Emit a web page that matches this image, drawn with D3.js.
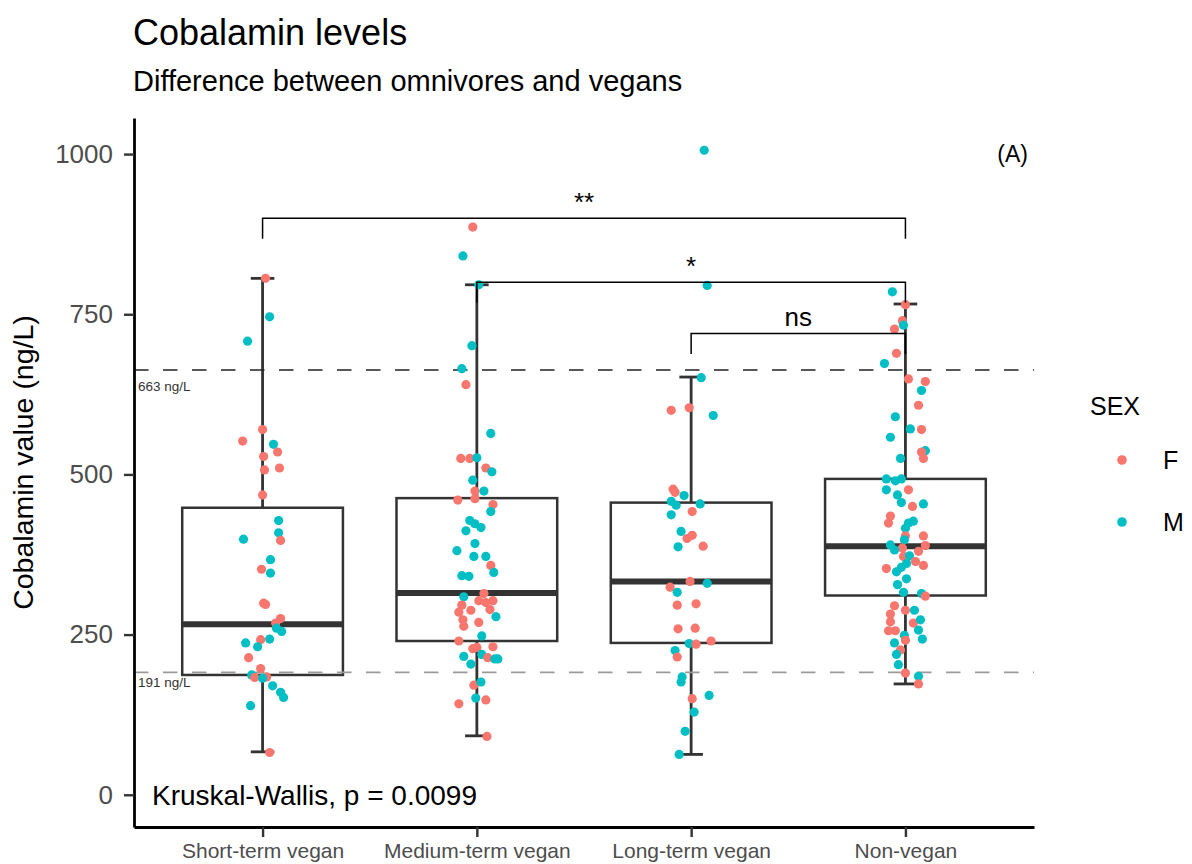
<!DOCTYPE html>
<html>
<head>
<meta charset="utf-8">
<script src="https://cdn.jsdelivr.net/npm/d3@7"></script>
<style>
  html, body { margin: 0; padding: 0; background: #fff; }
  svg { display: block; font-family: "Liberation Sans", Arial, Helvetica, sans-serif; }
</style>
</head>
<body>
<svg id="chart" width="1192" height="864"></svg>
<script>
// ---- data ----
const categories = ["Short-term vegan", "Medium-term vegan", "Long-term vegan", "Non-vegan"];

// box plot statistics per group (ng/L)
const whiskerLow  = [67, 92, 63, 173];
const q1          = [187, 240, 237, 311];
const median      = [266, 315, 333, 388];
const q3          = [448, 463, 456, 493];
const whiskerHigh = [806, 796, 652, 766];

const yTicks = [0, 250, 500, 750, 1000];
const thresholds = [663, 191];
const thresholdLabels = ["663 ng/L", "191 ng/L"];
const sexes = ["F", "M"];
const sexColors = ["#F8766D", "#00BFC4"];

// pairwise comparisons
const bracketFrom  = ["Short-term vegan", "Medium-term vegan", "Long-term vegan"];
const bracketTo    = ["Non-vegan", "Non-vegan", "Non-vegan"];
const bracketY     = [900, 800, 720];
const bracketLabel = ["**", "*", "ns"];

// individual measurements: [value, sex, jitter (fraction of category step)]
const shortTermPoints = [
  [806,"F",.014],[746,"M",.033],[708,"M",-.070],[570,"F",0],[552,"F",-.093],[547,"M",.051],
  [535,"F",.070],[528,"F",.005],[507,"F",.009],[510,"F",.079],[468,"F",0],[428,"M",.075],
  [409,"M",.075],[397,"F",.084],[399,"M",-.089],[367,"M",.037],[352,"F",-.005],[346,"M",.037],
  [299,"F",.005],[297,"F",.014],[275,"F",.084],[268,"F",.061],[260,"M",.065],[255,"M",.089],
  [243,"M",.033],[242,"F",-.009],[237,"M",-.079],[231,"M",-.023],[214,"F",-.065],[197,"F",-.009],
  [187,"M",-.051],[183,"F",-.037],[184,"F",.019],[182,"M",0],[170,"M",.047],[160,"M",.084],
  [152,"M",.098],[139,"M",-.056],[66,"F",.033]
];
const mediumTermPoints = [
  [886,"F",-.019],[841,"M",-.065],[796,"M",.009],[701,"M",-.023],[665,"M",-.070],[640,"F",-.051],
  [564,"M",.065],[525,"F",-.075],[525,"F",-.033],[526,"M",0],[510,"F",.042],[504,"M",.070],
  [491,"M",-.019],[474,"F",-.009],[474,"M",.033],[460,"F",-.089],[462,"F",-.009],[453,"F",.075],
  [442,"M",.065],[428,"M",-.033],[423,"M",-.009],[417,"M",.019],[412,"M",-.051],[392,"M",-.009],
  [381,"M",-.093],[372,"M",-.014],[372,"M",.042],[358,"F",.065],[347,"M",.079],[342,"M",-.070],
  [341,"M",-.037],[314,"F",.033],[309,"M",-.061],[303,"F",.009],[300,"F",.042],[303,"F",.075],
  [296,"F",-.070],[288,"F",-.028],[285,"F",-.084],[289,"F",.061],[278,"M",.089],[273,"F",-.065],
  [263,"F",-.061],[269,"F",.009],[248,"M",.023],[240,"F",-.084],[228,"F",-.019],[230,"F",0],
  [231,"F",.075],[216,"M",-.061],[219,"M",.023],[214,"F",.051],[212,"M",.084],[212,"M",.098],
  [204,"M",-.028],[171,"F",-.014],[176,"M",.019],[151,"M",-.005],[148,"F",.042],[142,"F",-.084],
  [91,"F",.047]
];
const longTermPoints = [
  [1006,"M",.061],[795,"M",.075],[651,"M",.047],[600,"F",-.093],[604,"F",-.009],[592,"M",.103],
  [477,"F",-.084],[472,"F",-.075],[467,"M",-.033],[458,"M",-.093],[452,"M",-.070],[454,"M",.042],
  [442,"F",.005],[437,"M",-.093],[411,"M",-.047],[405,"F",.005],[400,"F",-.019],[388,"F",.056],
  [387,"M",-.061],[333,"F",-.005],[324,"F",-.098],[330,"M",.075],[316,"M",-.065],[296,"F",-.065],
  [298,"F",.023],[259,"F",-.061],[260,"F",.019],[236,"M",-.009],[235,"F",.023],[240,"F",.093],
  [225,"M",-.075],[215,"F",-.065],[184,"M",-.042],[176,"M",-.047],[150,"F",.005],[155,"M",.084],
  [129,"M",.014],[99,"M",-.028],[63,"M",-.056]
];
const nonVeganPoints = [
  [785,"M",-.061],[765,"F",0],[740,"F",-.014],[733,"M",-.009],[727,"F",-.051],[689,"F",-.042],
  [673,"M",-.098],[649,"F",.014],[645,"F",.093],[631,"M",.075],[608,"F",.061],[590,"M",-.047],
  [571,"M",.023],[570,"F",.075],[558,"M",-.070],[537,"M",.093],[535,"F",.075],[525,"F",.084],
  [525,"M",-.023],[493,"M",-.089],[490,"M",-.047],[493,"M",-.019],[476,"M",-.089],[476,"F",.014],
  [468,"M",-.037],[456,"M",-.019],[450,"F",.033],[454,"M",.084],[435,"F",-.070],[424,"F",-.079],
  [427,"M",.037],[424,"M",.014],[416,"M",0],[404,"F",0],[404,"F",.084],[398,"M",-.005],
  [390,"M",-.070],[389,"F",.093],[385,"F",-.014],[382,"M",-.051],[380,"F",.061],[372,"F",-.009],
  [373,"M",.019],[364,"F",.047],[358,"F",.084],[361,"M",.005],[353,"F",-.089],[355,"M",-.019],
  [348,"M",-.042],[337,"M",.005],[328,"M",-.037],[316,"M",-.009],[314,"M",.075],[310,"F",.093],
  [295,"F",-.051],[288,"F",0],[288,"M",.042],[282,"F",-.070],[270,"F",-.070],[268,"F",.037],
  [273,"M",.070],[257,"M",.061],[256,"F",-.079],[256,"F",-.047],[249,"M",-.005],[243,"M",.079],
  [241,"F",0],[237,"M",-.051],[226,"F",-.023],[219,"M",-.042],[203,"M",-.033],[190,"F",0],
  [185,"M",.061],[173,"F",.061]
];
const pointGroups = [shortTermPoints, mediumTermPoints, longTermPoints, nonVeganPoints];

// ---- layout ----
const svg = d3.select("#chart");
const panel = { left: 134, right: 1034, top: 118, bottom: 827 };

const x = d3.scalePoint().domain(categories).range([panel.left, panel.right]).padding(0.6);
const step = x.step();
const y = d3.scaleLinear().domain([-50.3, 1056.3]).range([panel.bottom, panel.top]);
const color = d3.scaleOrdinal().domain(sexes).range(sexColors);

const boxW = step * 0.75;
const capW = step * 0.11;
const ink = "#333333";

// titles
svg.append("text").attr("x", 133).attr("y", 45)
  .attr("font-size", 36).attr("fill", "#000").text("Cobalamin levels");
svg.append("text").attr("x", 133).attr("y", 91)
  .attr("font-size", 29).attr("fill", "#000").text("Difference between omnivores and vegans");

const plot = svg.append("g");

const stats = categories.map((c, i) => ({
  cat: c, lo: whiskerLow[i], q1: q1[i], med: median[i], q3: q3[i], hi: whiskerHigh[i]
}));

// error-bar whiskers
const eb = plot.append("g").attr("stroke", ink).attr("stroke-width", 2.8).attr("fill", "none");
eb.selectAll("line.v").data(stats).join("line").attr("class", "v")
  .attr("x1", d => x(d.cat)).attr("x2", d => x(d.cat))
  .attr("y1", d => y(d.lo)).attr("y2", d => y(d.hi));
eb.selectAll("line.cap-hi").data(stats).join("line").attr("class", "cap-hi")
  .attr("x1", d => x(d.cat) - capW / 2).attr("x2", d => x(d.cat) + capW / 2)
  .attr("y1", d => y(d.hi)).attr("y2", d => y(d.hi));
eb.selectAll("line.cap-lo").data(stats).join("line").attr("class", "cap-lo")
  .attr("x1", d => x(d.cat) - capW / 2).attr("x2", d => x(d.cat) + capW / 2)
  .attr("y1", d => y(d.lo)).attr("y2", d => y(d.lo));

// boxes
plot.append("g").selectAll("rect").data(stats).join("rect")
  .attr("x", d => x(d.cat) - boxW / 2).attr("width", boxW)
  .attr("y", d => y(d.q3)).attr("height", d => y(d.q1) - y(d.q3))
  .attr("fill", "#fff").attr("stroke", ink).attr("stroke-width", 2.5);
plot.append("g").selectAll("line").data(stats).join("line")
  .attr("x1", d => x(d.cat) - boxW / 2).attr("x2", d => x(d.cat) + boxW / 2)
  .attr("y1", d => y(d.med)).attr("y2", d => y(d.med))
  .attr("stroke", ink).attr("stroke-width", 6);

// reference thresholds
const thrColors = ["#222222", "#9a9a9a"];
const thrOffsets = [16, 10];
plot.append("g").selectAll("line").data(thresholds).join("line")
  .attr("x1", panel.left).attr("x2", panel.right)
  .attr("y1", d => y(d)).attr("y2", d => y(d))
  .attr("stroke", (d, i) => thrColors[i]).attr("stroke-width", 1.6)
  .attr("stroke-dasharray", "14.5,14.5");
plot.append("g").selectAll("text").data(thresholds).join("text")
  .attr("x", panel.left + 4).attr("y", (d, i) => y(d) + thrOffsets[i])
  .attr("dy", "0.35em").attr("font-size", 13.5).attr("fill", "#333")
  .text((d, i) => thresholdLabels[i]);

// jittered points
const points = [];
pointGroups.forEach((g, i) => g.forEach(p => points.push({ cat: categories[i], v: p[0], sex: p[1], j: p[2] })));
plot.append("g").selectAll("circle").data(points).join("circle")
  .attr("cx", d => x(d.cat) + d.j * step)
  .attr("cy", d => y(d.v))
  .attr("r", 4.6)
  .attr("fill", d => color(d.sex));

// significance brackets
const tip = 32;
const br = plot.append("g");
bracketY.forEach((yb, i) => {
  const x1 = x(bracketFrom[i]), x2 = x(bracketTo[i]);
  br.append("path")
    .attr("d", `M${x1},${y(yb - tip)}V${y(yb)}H${x2}V${y(yb - tip)}`)
    .attr("fill", "none").attr("stroke", "#000").attr("stroke-width", 1.5);
  br.append("text").attr("x", (x1 + x2) / 2).attr("y", y(yb) - 7)
    .attr("text-anchor", "middle").attr("font-size", 26).attr("fill", "#000")
    .text(bracketLabel[i]);
});

// panel tag and global test
svg.append("text").attr("x", x("Non-vegan") + step / 2).attr("y", y(1000))
  .attr("dy", "0.35em").attr("text-anchor", "middle").attr("font-size", 23).attr("fill", "#000")
  .text("(A)");
svg.append("text").attr("x", panel.left + 18).attr("y", y(0))
  .attr("dy", "0.35em").attr("font-size", 28).attr("fill", "#000")
  .text("Kruskal-Wallis, p = 0.0099");

// axes
const yAxis = svg.append("g").attr("transform", `translate(${panel.left},0)`)
  .call(d3.axisLeft(y).tickValues(yTicks).tickFormat(d3.format("d"))
    .tickSize(10).tickSizeOuter(0).tickPadding(11));
const xAxis = svg.append("g").attr("transform", `translate(0,${panel.bottom})`)
  .call(d3.axisBottom(x).tickSize(10).tickSizeOuter(0));
[yAxis, xAxis].forEach(a => {
  a.select(".domain").attr("stroke", "#000").attr("stroke-width", 2.8);
  a.selectAll(".tick line").attr("stroke", ink).attr("stroke-width", 2.4);
  a.selectAll(".tick text").attr("fill", "#4d4d4d").attr("font-family", null);
});
yAxis.selectAll(".tick text").attr("font-size", 26);
// category labels sit at the bottom edge of the canvas
xAxis.selectAll(".tick text").attr("font-size", 21)
  .attr("y", 858 - panel.bottom).attr("dy", null);

svg.append("text")
  .attr("transform", `translate(33,${(panel.top + panel.bottom) / 2 - 10}) rotate(-90)`)
  .attr("text-anchor", "middle").attr("font-size", 28.5).attr("fill", "#000")
  .text("Cobalamin value (ng/L)");

// legend
const legend = svg.append("g");
legend.append("text").attr("x", 1090).attr("y", 415).attr("font-size", 25).attr("fill", "#000").text("SEX");
const keyY = [460, 522];
sexes.forEach((s, i) => {
  legend.append("circle").attr("cx", 1122).attr("cy", keyY[i]).attr("r", 4.8).attr("fill", color(s));
  legend.append("text").attr("x", 1163).attr("y", keyY[i]).attr("dy", "0.35em")
    .attr("font-size", 25).attr("fill", "#000").text(s);
});
</script>
</body>
</html>
